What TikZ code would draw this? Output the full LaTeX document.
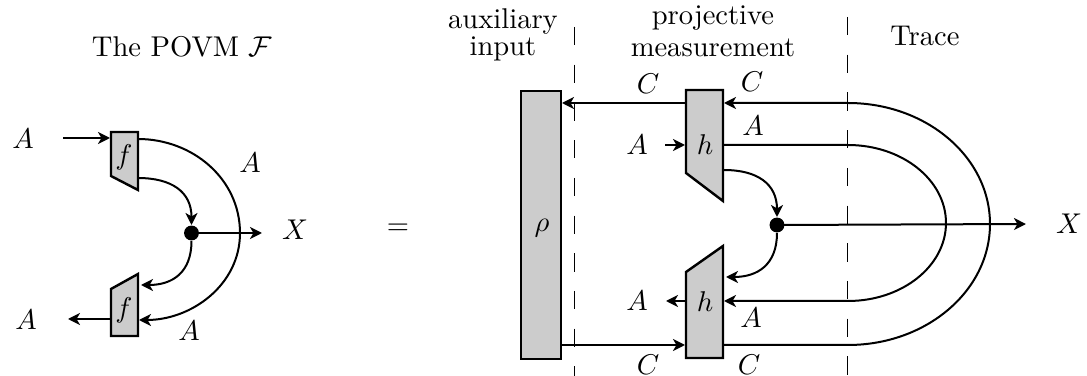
\documentclass[tikz,border=0pt]{standalone}
\usepackage{amsmath,amsfonts,amssymb}
\usetikzlibrary{arrows.meta, calc}

\tikzset{
  wire/.style={->,line width=0.7pt},
  box/.style={draw,fill=black!20,line width=0.85pt},
  sep/.style={dash pattern=on 6.4pt off 6.8pt,line width=0.4pt},
  dot/.style={fill,circle,inner sep=0pt,minimum size=5.2pt},
  twolines/.style={align=center,inner sep=0pt},
}

\begin{document}
\begin{tikzpicture}[x=0.35pt,y=-0.35pt,>={Stealth[length=4.2pt,width=4.2pt,inset=1.2pt]}]

\useasboundingbox (0,0) rectangle (1087,376);

% ---- titoli ----
\node (povm) at (182,47) {The POVM $\mathcal{F}$};
\node[twolines] (aux) at (503,35) {auxiliary\\[-2.4pt]input};
\node[twolines] (proj) at (713,31) {projective\\[-0.7pt]measurement};
\node (trace) at (925,36) {Trace};
\node (eq) at (398,229) {$=$};

% ---- linee tratteggiate ----
\coordinate (septop1) at (574.5,27);
\coordinate (sepbot1) at (574.5,376);
\coordinate (septop2) at (847.5,17);
\coordinate (sepbot2) at (847.5,376);
\draw[sep] (septop1) -- (sepbot1);
\draw[sep] (septop2) -- (sepbot2);

% ---- POVM a sinistra ----
\draw[box] (111,132) -- (138,132) -- (138,190) -- (111,176) -- cycle;
\draw[box] (111,336) -- (138,336) -- (138,274) -- (111,289) -- cycle;
\node (f1) at (124,157) {$f$};
\node (f2) at (124,310) {$f$};
\node[dot] (d1) at (191.5,233) {};

\coordinate (ain) at (63,138);
\coordinate (f1w) at (110,138);
\coordinate (f1e) at (138,139);
\coordinate (f1s) at (138,178);
\coordinate (f2n) at (141,285);
\coordinate (f2e) at (139,320);
\coordinate (f2w) at (111,319);
\coordinate (aout) at (68,319);
\coordinate (xa) at (262,233);
\coordinate (farc) at (240,233);

\draw[wire] (ain) -- (f1w);
\draw[wire] (f2w) -- (aout);
\draw[wire] (d1.center) -- (xa);
\draw[wire] (f1s) to[out=0,in=90,looseness=1.2] (d1.north);
\draw[wire] (d1.south) to[out=-90,in=0,looseness=1.2] (f2n);
\draw[wire] (f1e) to[out=0,in=90] (farc) to[out=-90,in=0] (f2e);

\node (a1) at (23,139) {$A$};
\node (a2) at (26,320) {$A$};
\node (a3) at (250,163) {$A$};
\node (a4) at (189,331) {$A$};
\node (x1) at (295,230) {$X$};

% ---- lato destro ----
\draw[box] (521,91) rectangle (561,359);
\node (rho) at (542,228) {$\rho$};
\draw[box] (686,90) -- (723,90) -- (723,201) -- (686,173) -- cycle;
\draw[box] (686,358) -- (723,358) -- (723,246) -- (686,272) -- cycle;
\node (h1) at (705,145) {$h$};
\node (h2) at (705,302) {$h$};
\node[dot] (d2) at (777,225) {};

\coordinate (rhoC) at (562,103);
\coordinate (h1C) at (686,103);
\coordinate (h1Cr) at (724,103);
\coordinate (h1A) at (723,145);
\coordinate (h1Al) at (685,145);
\coordinate (inA) at (665,145);
\coordinate (h1s) at (724,170);
\coordinate (h2n) at (726,277);
\coordinate (h2Ar) at (724,301);
\coordinate (h2Al) at (686,301);
\coordinate (outA) at (666,301);
\coordinate (rhoB) at (561,345);
\coordinate (h2C) at (685,345);
\coordinate (h2Cr) at (723,345);
\coordinate (xb) at (1026,224);

\draw[wire] (h1C) -- (rhoC);
\draw[wire] (inA) -- (h1Al);
\draw[wire] (h2Al) -- (outA);
\draw[wire] (rhoB) -- (h2C);
\draw[wire] (h1s) to[out=0,in=90,looseness=1.2] (d2.north);
\draw[wire] (d2.south) to[out=-90,in=0,looseness=1.2] (h2n);
\draw[wire] (d2.center) -- (xb);

% archi esterni
\draw[wire] (h2Cr) -- (848,345) arc[start angle=90,end angle=-90,x radius=142,y radius=121] -- (h1Cr);
\draw[wire] (h1A) -- (848,145) arc[start angle=-90,end angle=90,x radius=98,y radius=78] -- (h2Ar);

\node (c1) at (648,84) {$C$};
\node (c2) at (752,82) {$C$};
\node (a5) at (753,126) {$A$};
\node (a6) at (637,145) {$A$};
\node (a7) at (637,301) {$A$};
\node (a8) at (751,318) {$A$};
\node (c3) at (648,365) {$C$};
\node (c4) at (749,365) {$C$};
\node (x2) at (1069,224) {$X$};

\end{tikzpicture}
\end{document}
